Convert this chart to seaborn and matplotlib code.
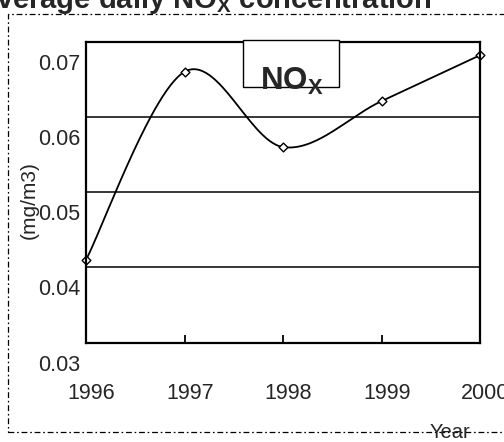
import numpy as np
import pandas as pd
import matplotlib
matplotlib.use("Agg")
import matplotlib.pyplot as plt
import matplotlib.transforms as mtrans
from matplotlib.patches import Rectangle
import seaborn as sns

years = [1996, 1997, 1998, 1999, 2000]
nox = [0.0410, 0.0660, 0.0560, 0.0621, 0.0682]
ytick_vals = [0.03, 0.04, 0.05, 0.06, 0.07]
ytick_labels = ["0.03", "0.04", "0.05", "0.06", "0.07"]
xtick_labels = ["1996", "1997", "1998", "1999", "2000"]

sns.set_style("white")
plt.rcParams["font.family"] = ["Liberation Sans", "DejaVu Sans"]
plt.rcParams["mathtext.fontset"] = "custom"
plt.rcParams["mathtext.rm"] = "Liberation Sans"
plt.rcParams["mathtext.bf"] = "Liberation Sans:bold"
plt.rcParams["lines.scale_dashes"] = False

W, H = 504, 442
DPI = 100
fig = plt.figure(figsize=(W / DPI, H / DPI), dpi=DPI)
fig.patch.set_facecolor("white")
ax = fig.add_axes([86 / W, 1 - 342.7 / H, (480 - 86) / W, (342.7 - 41.7) / H])

# Catmull-Rom (Excel-like) smoothing of the data points
xs = np.array(years, dtype=float)
ys = np.array(nox, dtype=float)
P = np.column_stack([xs, ys])
Pext = np.vstack([P[0], P, P[-1]])
curve = []
for i in range(len(P) - 1):
    p0, p1, p2, p3 = Pext[i], Pext[i + 1], Pext[i + 2], Pext[i + 3]
    c1 = p1 + (p2 - p0) / 6.0
    c2 = p2 - (p3 - p1) / 6.0
    t = np.linspace(0, 1, 60)[:, None]
    seg = (1 - t) ** 3 * p1 + 3 * (1 - t) ** 2 * t * c1 + 3 * (1 - t) * t ** 2 * c2 + t ** 3 * p2
    curve.append(seg if i == 0 else seg[1:])
curve = np.vstack(curve)
smooth = pd.DataFrame({"Year": curve[:, 0], "NOx": curve[:, 1]})
pts = pd.DataFrame({"Year": years, "NOx": nox})

sns.lineplot(data=smooth, x="Year", y="NOx", ax=ax, color="black", lw=1.3,
             sort=False, estimator=None, zorder=3)
sns.scatterplot(data=pts, x="Year", y="NOx", ax=ax, marker="D", s=20,
                facecolor="white", edgecolor="black", linewidth=1.0, zorder=4,
                clip_on=False)

ax.set_xlim(1996, 2000)
ax.set_ylim(0.03, 0.07)
ax.set_yticks(ytick_vals)
ax.set_yticklabels(ytick_labels)
ax.set_xticks(years)
ax.set_xticklabels(xtick_labels)
ax.set_xlabel("")
ax.set_ylabel("")
ax.grid(axis="y", color="black", lw=1.1)
ax.grid(axis="x", visible=False)
ax.set_axisbelow(True)
for s in ax.spines.values():
    s.set_color("black")
    s.set_linewidth(1.6)
    s.set_zorder(5)

ax.tick_params(axis="x", direction="in", length=5.8, width=1.3, color="black",
               pad=29, labelsize=15.5, bottom=True)
ax.tick_params(axis="y", length=0, pad=4.3, labelsize=15.5, left=True)

for lab in ax.get_xticklabels():
    lab.set_transform(lab.get_transform() + mtrans.ScaledTranslation(5.5 / DPI, 0, fig.dpi_scale_trans))
for lab in ax.get_yticklabels():
    lab.set_transform(lab.get_transform() + mtrans.ScaledTranslation(0, -20 / DPI, fig.dpi_scale_trans))

# NOx label box
box = Rectangle((243 / W, 1 - 87 / H), (339 - 243) / W, (87 - 40) / H,
                transform=fig.transFigure, facecolor="white", edgecolor="black",
                lw=1.0, zorder=6)
fig.patches.append(box)
fig.text(260 / W, 1 - 90 / H, r"NO$_{\mathbf{X}}$", fontsize=22.5, fontweight="bold",
         ha="left", va="baseline", zorder=7)

# Title (cut off at top-left as in the reference)
fig.text(432 / W, 1 - 8 / H, r"Average daily NO$_{\mathbf{X}}$ concentration",
         fontsize=21, fontweight="bold", ha="right", va="baseline")

# Axis titles
fig.text(29 / W, 1 - 200 / H, "(mg/m3)", rotation=90, fontsize=15, ha="center", va="center")
fig.text(450 / W, 1 - 433 / H, "Year", fontsize=14.5, ha="center", va="center", zorder=8)

# dash-dot chart-area border
border = Rectangle((8 / W, 1 - 431.5 / H), (W + 10 - 8) / W, (431.5 - 13.5) / H,
                   transform=fig.transFigure, fill=False, edgecolor="black", lw=0.9,
                   linestyle=(0, (4.2, 2.0, 1.2, 2.0)), zorder=1)
fig.patches.append(border)

fig.savefig("out.png", dpi=DPI)
